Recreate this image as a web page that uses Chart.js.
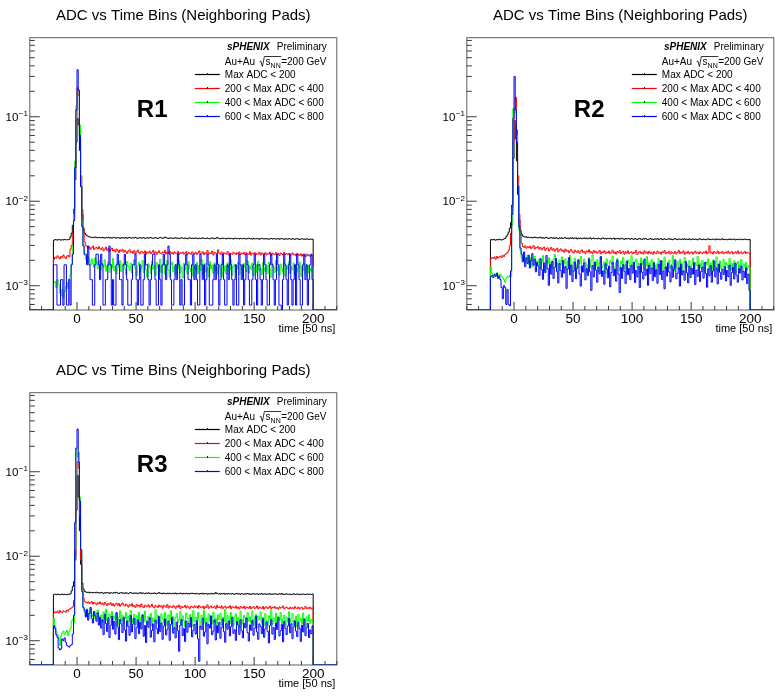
<!DOCTYPE html>
<html lang="en">
<head>
<meta charset="UTF-8">
<title>ADC vs Time Bins (Neighboring Pads)</title>
<script src="https://cdn.jsdelivr.net/npm/chart.js"></script>
<style>
  html, body { margin: 0; padding: 0; background: #fff; overflow: hidden; width: 775px; height: 698px; }
  .pad { position: absolute; width: 388px; height: 350px; }
  #padR1 { left: 0; top: 0; }
  #padR2 { left: 437px; top: 0; }
  #padR3 { left: 0; top: 355px; }
</style>
</head>
<body>
<canvas id="padR1" class="pad" width="388" height="350"></canvas>
<canvas id="padR2" class="pad" width="388" height="350"></canvas>
<canvas id="padR3" class="pad" width="388" height="350"></canvas>
<script>
// one bin per time sample, first filled bin starts at -20
// bin contents are normalised, stored in units of 1e-5 (0 = empty bin)
const FIRST_BIN = -20;
const UNIT = 1e-5;
const TIME_RANGE = [-40, 220];
const Y_RANGE = [5.16e-4, 0.862];
const X_TICK_LABELS = [0, 50, 100, 150, 200];
const Y_TICK_EXPONENTS = [-3, -2, -1];
const SERIES_LABELS = ['Max ADC < 200', '200 < Max ADC < 400', '400 < Max ADC < 600', '600 < Max ADC < 800'];
const SERIES_COLORS = ['#000000', '#ff0000', '#00ff00', '#0000ff'];

// ---- R1 ----
const r1Black = [
  345,352,349,347,353,350,346,351,348,352,350,349,352,355,380,420,520,800,1800,5000,
  9500,8000,4000,1500,700,480,420,400,392,384,378,376,372,375,370,377,373,369,374,371,
  368,373,370,366,372,369,375,367,371,365,370,374,368,366,372,369,363,371,367,370,
  366,372,364,369,373,367,365,370,368,374,366,363,369,372,365,368,371,364,367,370,
  365,369,372,366,363,368,371,366,362,369,373,367,364,368,377,370,366,363,369,365,
  368,362,366,370,364,367,361,365,369,366,363,368,364,360,366,369,363,367,362,365,
  368,363,360,366,362,365,369,363,361,364,367,362,359,365,368,363,360,364,373,366,
  362,359,364,367,361,363,358,362,366,360,364,361,357,363,366,360,362,358,363,361,
  359,364,360,357,362,365,359,361,356,362,360,358,363,359,355,361,364,358,360,357,
  361,358,355,360,363,357,359,362,356,358,361,355,359,362,357,354,360,358,356,361,
  357,355,360,358,354,359,361,356,353,358,360,355,357,354,359,356,353,357,355,356
];
const r1Red = [
  205,218,212,226,215,208,222,214,231,218,210,224,228,219,270,300,420,800,2500,9000,
  22000,18000,7000,2000,800,450,330,300,292,276,288,270,281,295,268,279,284,272,290,274,
  268,282,259,271,286,263,275,254,268,279,258,266,251,272,261,247,265,256,270,249,
  262,253,241,258,266,248,255,243,260,237,252,264,246,239,255,249,242,258,236,251,
  244,256,239,249,262,241,253,235,247,259,243,238,251,245,262,237,249,242,256,240,
  247,236,252,243,239,255,234,246,241,250,237,244,253,232,248,240,236,251,243,238,
  249,235,244,258,237,242,252,233,246,239,262,236,245,240,257,231,248,243,237,266,
  241,236,250,232,245,240,237,253,231,244,239,235,249,242,233,246,238,251,234,243,
  237,248,232,245,240,235,252,230,243,238,247,233,240,236,249,231,244,239,234,246,
  232,241,236,250,229,243,237,233,246,235,241,228,244,238,231,247,236,240,233,242,
  229,238,244,231,236,226,241,233,228,239,224,235,230,221,237,226,232,223,228,225
];
const r1Green = [
  108,112,95,118,104,82,76,90,72,85,98,110,92,120,135,180,300,700,3000,13500,
  19000,21000,8000,2000,600,300,230,206,188,221,197,175,208,183,165,214,190,159,199,177,
  156,185,168,202,149,173,191,144,180,162,210,151,170,139,188,166,197,147,175,183,
  158,136,194,169,152,185,141,177,203,160,131,172,189,148,164,198,143,179,155,126,
  182,167,140,195,157,174,133,188,161,150,206,142,171,185,137,163,199,153,128,176,
  190,146,168,135,181,159,197,142,166,123,184,154,176,138,192,161,147,180,130,171,
  157,189,139,173,152,205,134,167,183,145,162,129,193,158,176,141,186,150,170,137,
  181,160,127,195,149,172,138,187,163,153,200,133,168,179,144,158,191,136,174,155,
  129,183,164,147,196,140,171,156,185,132,166,178,143,194,151,160,135,188,162,148,
  175,139,190,157,126,182,165,144,198,150,169,134,180,161,145,187,131,173,158,192,
  140,168,154,185,133,177,146,162,191,128,170,152,183,137,164,175,142,158,149,166
];
const r1Blue = [
  177,177,177,59,59,59,118,118,59,177,177,59,59,118,59,177,236,590,2500,12000,
  36000,20500,6000,1500,500,295,236,236,177,295,177,118,118,59,59,177,236,236,177,118,
  236,177,59,59,118,118,177,295,177,59,118,59,59,177,236,177,118,118,59,177,
  236,177,118,59,59,59,118,177,177,236,118,59,118,177,59,59,118,236,177,177,
  118,59,118,177,236,236,118,59,59,177,118,59,177,236,177,118,177,295,236,118,
  59,59,118,177,118,236,177,59,118,59,59,177,236,177,118,118,59,177,236,118,
  177,118,59,59,236,177,118,177,59,118,236,177,59,59,59,118,177,118,236,177,
  59,118,177,236,118,59,59,177,118,236,177,118,59,118,177,59,59,236,177,118,
  177,59,118,236,177,118,59,59,118,177,236,118,59,177,177,118,59,118,236,177,
  118,59,59,177,236,177,118,59,118,236,177,59,59,0,118,236,177,118,59,177,
  236,118,59,118,177,59,236,177,118,59,59,177,236,118,177,59,118,177,236,118
];

// ---- R2 ----
const r2Black = [
  352,348,353,350,346,352,349,355,351,347,353,358,362,380,400,430,480,560,900,3200,
  9000,5500,3000,1200,600,450,410,388,381,376,379,372,375,370,374,368,373,377,369,372,
  367,371,375,366,370,364,369,373,367,362,368,372,365,369,363,371,366,360,368,364,
  369,363,367,371,362,366,360,368,364,370,361,365,369,358,366,362,367,360,364,368,
  361,366,359,364,369,357,363,367,360,362,358,365,361,356,364,368,359,362,357,363,
  360,365,357,361,366,355,362,359,364,356,360,365,358,354,361,357,363,359,355,362,
  358,354,361,357,352,359,363,356,353,360,357,362,355,351,358,361,354,357,352,359,
  356,360,353,357,362,351,355,359,354,352,358,361,353,356,350,357,362,354,351,358,
  355,352,358,354,360,351,356,353,359,350,355,358,352,357,354,349,356,360,353,351,
  357,353,350,356,359,352,354,351,357,355,349,358,353,356,350,354,359,351,355,352,
  350,356,353,358,351,354,357,349,352,355,351,356,353,350,354,357,351,353,350,352
];
const r2Red = [
  208,215,211,219,206,222,213,218,224,216,229,221,233,240,248,262,300,420,850,5000,
  12500,17000,7000,2000,700,400,320,291,284,296,278,289,281,293,275,286,298,272,284,279,
  290,271,283,266,278,287,262,275,281,258,270,284,263,274,256,268,279,252,266,273,
  257,264,249,271,255,262,246,259,268,251,244,263,254,247,260,242,256,265,248,253,
  241,258,250,266,245,253,239,261,247,255,243,249,262,238,252,246,259,240,251,244,
  257,239,248,263,242,251,237,254,246,260,240,249,256,236,252,243,258,241,247,253,
  238,250,244,262,235,247,255,241,249,237,259,244,251,239,256,242,248,236,253,245,
  240,257,243,249,236,252,246,261,239,248,243,256,237,251,245,240,254,238,247,262,
  241,250,244,258,236,249,243,255,239,247,252,237,246,256,242,249,238,253,245,240,
  251,244,257,239,248,296,243,250,238,254,246,242,257,240,249,244,253,239,247,251,
  243,256,240,248,253,238,245,251,242,258,240,247,252,239,246,254,241,249,244,242
];
const r2Green = [
  168,140,132,138,129,142,135,127,137,131,124,118,110,122,130,126,133,128,520,12500,
  11000,12000,6000,1500,450,260,212,198,224,186,205,231,179,194,215,168,201,222,183,196,
  176,208,161,189,227,172,150,197,183,214,166,191,158,205,236,170,187,149,201,178,
  219,163,182,207,155,193,174,228,168,145,190,211,177,160,198,184,222,151,173,206,
  189,142,176,214,165,197,230,159,181,170,203,148,186,219,162,175,193,140,208,171,
  155,199,183,224,167,144,188,210,173,152,196,181,216,158,177,139,202,185,163,226,
  174,150,191,207,162,184,141,213,179,196,156,171,221,146,187,168,203,159,192,175,
  138,182,209,164,176,197,153,218,170,145,189,201,161,178,227,149,185,166,194,157,
  206,172,143,188,215,160,181,169,198,137,176,212,154,190,173,223,151,184,163,199,
  167,145,192,178,208,156,186,139,201,174,163,219,148,181,196,158,172,205,143,188,
  177,161,211,152,184,169,197,140,179,193,158,175,204,147,182,166,189,154,171,163
];
const r2Blue = [
  128,132,125,135,130,140,122,130,118,95,70,100,95,60,90,60,58,150,700,9500,
  30000,12000,5000,1500,500,280,236,192,251,168,214,183,229,162,198,240,175,205,146,188,
  171,132,209,155,119,186,143,228,160,101,178,137,194,122,165,210,147,108,183,151,
  126,199,141,168,93,157,215,134,176,112,149,190,121,162,203,138,99,171,145,186,
  117,159,132,208,146,88,173,127,191,153,110,166,138,221,129,150,104,182,158,124,
  170,97,143,189,131,156,113,201,137,83,164,122,178,148,106,195,135,160,118,174,
  141,190,109,152,127,169,95,183,144,120,207,133,157,101,175,139,162,115,186,128,
  154,107,179,136,198,118,149,92,167,130,185,145,111,172,126,158,203,121,140,163,
  99,181,134,150,116,194,142,108,170,125,161,137,187,103,153,129,176,112,147,165,
  123,188,139,96,158,131,173,110,149,197,127,162,105,180,144,119,156,136,168,114,
  152,128,175,101,143,166,120,185,133,110,159,141,171,117,148,125,163,106,137,88
];

// ---- R3 ----
const r3Black = [
  352,355,350,356,353,349,354,357,351,355,352,350,356,353,360,390,440,500,900,3500,
  9000,5000,2000,800,480,410,385,378,372,376,369,374,371,367,373,370,375,368,371,366,
  372,368,364,370,366,373,369,363,371,367,365,372,368,374,366,362,369,371,365,368,
  363,370,366,361,368,372,365,362,369,364,367,360,366,371,363,368,365,361,367,363,
  369,364,360,366,362,368,364,359,366,371,362,365,360,367,363,358,365,361,366,362,
  359,365,361,367,358,363,360,366,362,357,364,360,365,359,362,357,363,366,360,362,
  358,364,360,356,362,359,365,357,361,363,356,360,358,364,357,361,359,372,362,358,
  360,356,362,358,364,355,360,357,363,359,356,361,357,354,360,363,356,359,355,361,
  358,354,360,357,362,355,359,353,358,361,355,357,360,354,358,356,362,353,357,359,
  354,358,356,361,353,357,355,360,358,352,356,359,355,362,353,357,354,358,356,353,
  357,353,356,359,352,355,358,354,351,356,353,357,354,352,355,358,353,356,354,357
];
const r3Red = [
  212,220,216,224,213,227,219,215,226,221,218,230,224,236,240,245,252,300,1000,5500,
  13000,11000,3000,900,420,320,292,284,279,288,276,283,290,271,285,278,266,282,274,287,
  270,279,265,284,272,260,276,268,281,263,274,257,270,278,262,275,256,269,280,264,
  258,271,263,250,267,259,274,254,262,248,268,257,264,251,272,255,246,263,258,252,
  266,249,257,270,253,245,261,255,248,264,252,259,243,262,256,249,267,244,258,251,
  246,260,253,242,258,250,264,241,255,247,252,262,244,257,249,240,256,251,245,259,
  248,255,243,261,250,246,256,239,253,247,266,242,251,257,245,249,254,240,262,247,
  252,244,258,241,249,255,243,251,246,259,240,253,248,244,257,242,250,238,254,247,
  243,256,240,251,247,242,255,238,249,253,241,246,258,239,250,245,241,254,237,248,
  252,240,247,256,238,249,244,253,241,246,236,251,243,248,257,239,245,250,242,237,
  249,241,246,238,253,243,240,251,237,245,248,236,242,255,239,246,241,250,238,244
];
const r3Green = [
  185,150,128,117,106,88,112,124,130,118,126,133,115,129,140,172,180,165,1200,19000,
  15000,17000,5000,1200,400,250,216,199,228,187,214,240,192,205,223,181,210,231,196,178,
  202,167,219,185,236,173,158,207,190,221,164,196,179,213,152,188,226,171,200,160,
  184,215,148,193,170,229,162,181,206,155,197,176,218,145,189,203,166,224,174,157,
  195,180,211,150,186,168,232,159,199,177,144,208,183,163,217,190,153,201,172,226,
  161,194,140,188,209,167,179,221,154,197,173,146,213,185,160,204,178,149,227,169,
  190,156,215,175,143,199,182,230,163,186,151,207,171,194,158,218,166,184,141,203,
  177,212,155,189,169,235,148,198,181,160,216,174,152,193,208,164,187,145,222,179,
  158,200,185,147,214,170,191,162,225,155,183,205,143,196,176,219,161,189,153,209,
  172,150,198,181,228,157,186,167,211,146,194,175,216,159,182,201,149,190,168,220,
  164,187,210,153,179,196,145,206,170,185,158,213,176,148,192,171,203,160,178,165
];
const r3Blue = [
  150,140,118,110,82,78,80,105,100,108,96,88,86,84,88,90,120,200,2500,19000,
  32000,13000,4500,1200,380,245,228,191,236,175,210,248,183,162,221,197,170,214,153,188,
  141,176,118,205,160,129,187,109,152,194,137,168,120,215,146,103,179,158,125,190,
  134,99,171,148,116,199,127,157,183,106,142,176,121,164,138,202,113,151,95,169,
  144,187,110,132,158,97,175,139,121,193,128,162,104,149,181,117,135,170,101,156,
  187,123,142,108,166,131,75,152,178,115,139,98,171,126,160,145,189,111,133,157,
  120,172,105,57,148,136,184,113,127,163,92,155,141,197,118,130,176,102,150,124,
  165,107,143,181,128,96,159,137,171,114,146,190,122,135,101,168,153,119,177,131,
  108,161,142,186,125,99,154,133,173,116,140,195,127,104,158,147,121,182,110,138,
  167,129,94,151,178,120,143,103,162,136,188,114,131,156,97,170,140,118,149,183,
  124,159,106,145,172,130,112,166,139,98,153,127,181,115,143,160,109,134,121,150
];

const FRAME_COLOR = '#5e5e5e';
const TICK_COLOR = '#3a3a3a';

function font(size, style) {
  return (style ? style + ' ' : '') + size + 'px "Liberation Sans", Arial, sans-serif';
}

// histogram outline: empty bins sit on the bottom of the frame, like ROOT does it
function histPoints(values) {
  const floor = Y_RANGE[0];
  const pts = [{ x: TIME_RANGE[0], y: floor }];
  values.forEach((v, i) => {
    pts.push({ x: FIRST_BIN + i, y: v > 0 ? v * UNIT : floor });
  });
  pts.push({ x: FIRST_BIN + values.length, y: floor });
  pts.push({ x: TIME_RANGE[1], y: floor });
  return pts;
}

// frame, inward ticks and all the pad text
const rootPad = {
  id: 'rootPad',
  beforeDatasetsDraw(chart) {
    const { ctx, chartArea: a, scales: { x, y } } = chart;
    ctx.save();
    ctx.strokeStyle = FRAME_COLOR;
    ctx.lineWidth = 1;
    ctx.strokeRect(a.left, a.top, a.right - a.left, a.bottom - a.top);

    ctx.strokeStyle = TICK_COLOR;
    ctx.beginPath();
    for (let e = -4; e <= 0; e++) {
      for (let m = 1; m <= 9; m++) {
        const v = m * Math.pow(10, e);
        if (v < Y_RANGE[0] || v > Y_RANGE[1]) continue;
        const py = y.getPixelForValue(v);
        const len = m === 1 ? 10 : 5;
        ctx.moveTo(a.left, py);
        ctx.lineTo(a.left + len, py);
      }
    }
    for (let t = TIME_RANGE[0]; t <= TIME_RANGE[1]; t += 10) {
      const px = x.getPixelForValue(t);
      const len = t % 50 === 0 ? 8 : 4;
      ctx.moveTo(px, a.bottom);
      ctx.lineTo(px, a.bottom - len);
    }
    ctx.stroke();
    ctx.restore();
  },
  afterDraw(chart, args, opts) {
    const { ctx, chartArea: a, scales: { x, y } } = chart;
    const R = a.right, T = a.top;
    ctx.save();
    ctx.fillStyle = '#000';
    ctx.textBaseline = 'alphabetic';

    // title
    ctx.font = font(15);
    ctx.textAlign = 'center';
    ctx.fillText('ADC vs Time Bins (Neighboring Pads)', (a.left + a.right) / 2, T - 18);

    // x axis labels + title
    ctx.font = font(13.5);
    X_TICK_LABELS.forEach(t => {
      ctx.fillText(String(t), x.getPixelForValue(t), a.bottom + 13);
    });
    ctx.textAlign = 'right';
    ctx.font = font(11);
    ctx.fillText('time [50 ns]', R - 1.5, a.bottom + 22);

    // y axis labels 10^n
    Y_TICK_EXPONENTS.forEach(e => {
      const py = y.getPixelForValue(Math.pow(10, e));
      ctx.textAlign = 'right';
      ctx.font = font(11.5);
      ctx.fillText('10', a.left - 11.5, py + 4.2);
      ctx.textAlign = 'left';
      ctx.font = font(8);
      ctx.fillText('\u2212' + Math.abs(e), a.left - 11, py - 0.5);
    });

    // region tag
    ctx.textAlign = 'left';
    ctx.font = font(24, 'bold');
    ctx.fillText(opts.tag, a.left + 107, T + 79);

    // sPHENIX Preliminary
    ctx.textAlign = 'right';
    ctx.font = font(10);
    ctx.fillText('Preliminary', R - 10, T + 12.6);
    const wPre = ctx.measureText('Preliminary').width;
    ctx.font = font(10, 'italic bold');
    ctx.fillText('sPHENIX', R - 10 - wPre - 7, T + 12.6);

    // Au+Au  sqrt(s_NN)=200 GeV
    ctx.textAlign = 'left';
    const by = T + 27.6;
    let cx = R - 112;
    ctx.font = font(10);
    ctx.fillText('Au+Au', cx, by);
    cx += ctx.measureText('Au+Au').width + 4.5;
    ctx.strokeStyle = '#000';
    ctx.lineWidth = 0.8;
    ctx.beginPath();
    ctx.moveTo(cx, by - 3.5);
    ctx.lineTo(cx + 1.2, by - 4.3);
    ctx.lineTo(cx + 2.8, by + 1.2);
    ctx.lineTo(cx + 4.8, by - 8.8);
    cx += 6;
    ctx.fillText('s', cx, by);
    cx += ctx.measureText('s').width;
    ctx.font = font(7);
    ctx.fillText('NN', cx, by + 2.6);
    cx += ctx.measureText('NN').width + 0.5;
    ctx.lineTo(cx, by - 8.8);
    ctx.stroke();
    ctx.font = font(10);
    ctx.fillText('=200 GeV', cx, by);

    // legend entries
    SERIES_LABELS.forEach((label, k) => {
      const yc = Math.round(T + 35.8 + k * 14.2) + 0.5;
      ctx.strokeStyle = SERIES_COLORS[k];
      ctx.lineWidth = 1.2;
      ctx.beginPath();
      ctx.moveTo(R - 142, yc);
      ctx.lineTo(R - 117, yc);
      ctx.stroke();
      ctx.fillStyle = '#222';
      ctx.fillRect(Math.round(R - 130), yc - 1.5, 1, 2);
      ctx.fillStyle = '#000';
      ctx.font = font(10);
      ctx.fillText(label, R - 112, yc + 3.6);
    });
    ctx.restore();
  }
};

function drawPad(canvasId, tag, series) {
  new Chart(document.getElementById(canvasId), {
    type: 'line',
    data: {
      datasets: series.map((values, k) => ({
        label: SERIES_LABELS[k],
        data: histPoints(values),
        borderColor: SERIES_COLORS[k],
        borderWidth: 1,
        stepped: true,
        pointRadius: 0,
        fill: false,
        order: series.length - k
      }))
    },
    options: {
      responsive: false,
      animation: false,
      devicePixelRatio: 1,
      layout: { padding: { left: 29.8, top: 37.7, right: 51.2, bottom: 40 } },
      scales: {
        x: { type: 'linear', min: TIME_RANGE[0], max: TIME_RANGE[1], display: false },
        y: { type: 'logarithmic', min: Y_RANGE[0], max: Y_RANGE[1], display: false }
      },
      plugins: {
        legend: { display: false },
        tooltip: { enabled: false },
        rootPad: { tag: tag }
      }
    },
    plugins: [rootPad]
  });
}

drawPad('padR1', 'R1', [r1Black, r1Red, r1Green, r1Blue]);
drawPad('padR2', 'R2', [r2Black, r2Red, r2Green, r2Blue]);
drawPad('padR3', 'R3', [r3Black, r3Red, r3Green, r3Blue]);
</script>
</body>
</html>
